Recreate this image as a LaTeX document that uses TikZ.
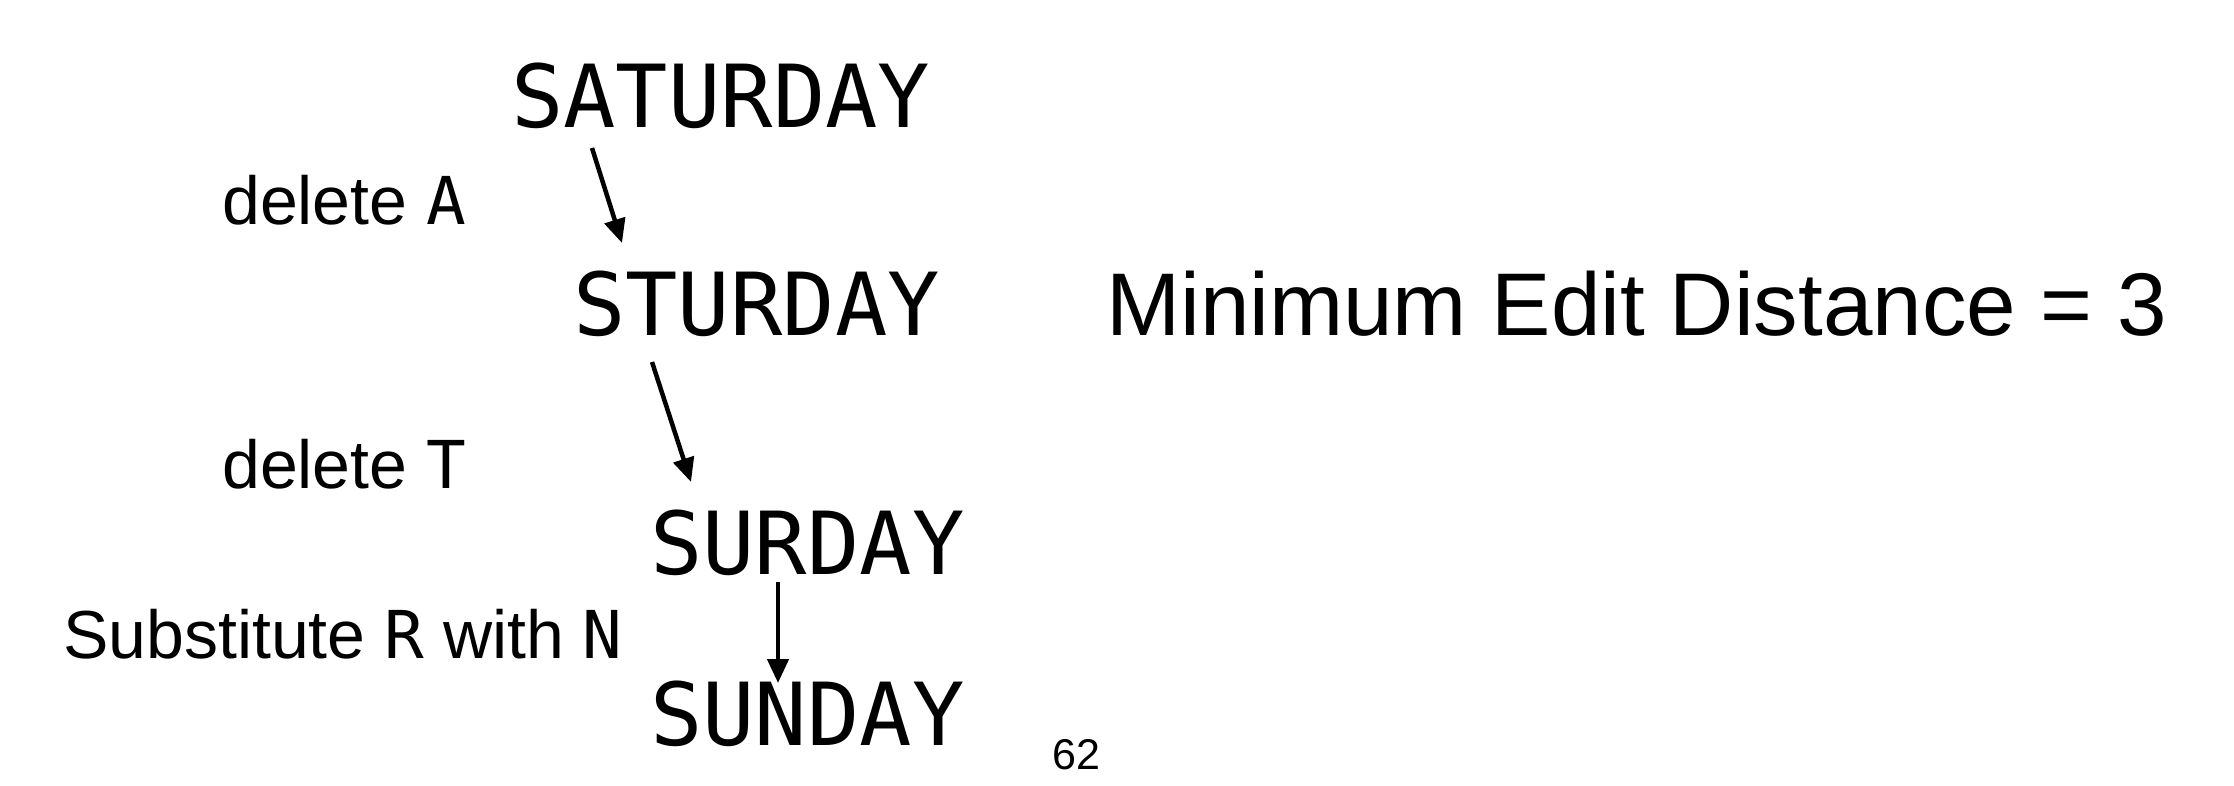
\documentclass[tikz,border=0pt]{standalone}
\usepackage{fontspec}
\setmainfont{Liberation Sans}
\newfontfamily\wordfont{DejaVu Sans Mono}
\usetikzlibrary{positioning,arrows.meta}
\newcommand{\ltr}[1]{{\wordfont\fontsize{66}{66}\selectfont #1}}

\begin{document}
\begin{tikzpicture}[
  x=1pt, y=-1pt,
  >={Triangle[length=24pt,width=21pt]},
  word/.style={anchor=base west, inner sep=0pt, font=\wordfont\fontsize{87}{87}\selectfont},
  lbl/.style={anchor=base west, inner sep=0pt, font=\fontsize{68}{68}\selectfont},
  edit/.style={->, line width=4.5pt}
]
\useasboundingbox (0,0) rectangle (2234,786);

\node[word] (sat) at (511,128) {SATURDAY};
\node[word] (stu) at (573,335) {STURDAY};
\node[word] (sur) at (650,574) {SURDAY};
\node[word] (sun) at (650,745) {SUNDAY};

\node[lbl] (delA) at (222,225) {delete \ltr{A}};
\node[lbl] (delT) at (222,488) {delete \ltr{T}};
\node[lbl] (subst) at (63,658) {Substitute \ltr{R} with \ltr{N}};

\node[anchor=base west, inner sep=0pt, font=\fontsize{89}{89}\selectfont] (med) at (1106,335) {Minimum Edit Distance = 3};
\node[anchor=base west, inner sep=0pt, font=\fontsize{43}{43}\selectfont] (page) at (1052,769) {62};

\draw[edit] ([shift={(81,20)}]sat.base west) -- ([shift={(49,-92)}]stu.base west);
\draw[edit] ([shift={(79,27)}]stu.base west) -- ([shift={(41,-92)}]sur.base west);
\draw[edit] ([shift={(128,8)}]sur.base west) -- ([shift={(128,-62)}]sun.base west);
\end{tikzpicture}
\end{document}
